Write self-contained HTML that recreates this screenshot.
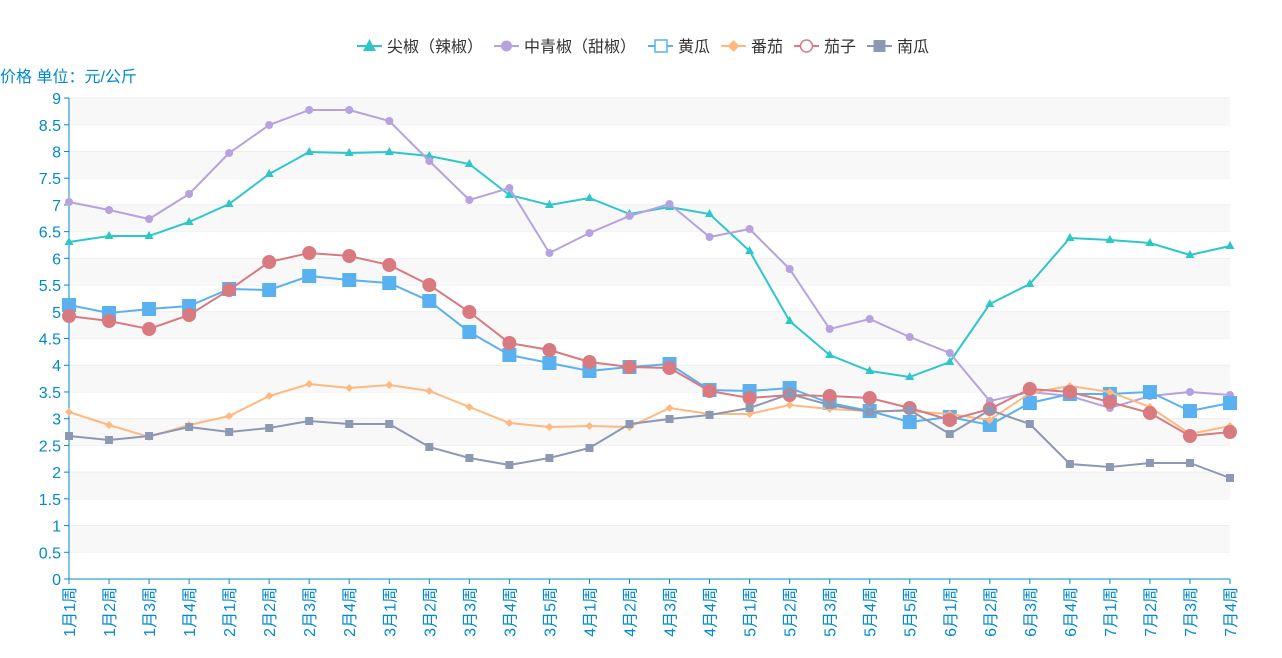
<!DOCTYPE html>
<html><head><meta charset="utf-8"><style>
html,body{margin:0;padding:0;background:#fff;width:1282px;height:658px;overflow:hidden}
svg{display:block}
text{font-family:"Liberation Sans","Noto Sans CJK SC",sans-serif}
</style></head><body>
<svg id="c" width="1282" height="658" xmlns="http://www.w3.org/2000/svg"></svg>
<script>
const s=document.getElementById('c');let h='';
const X0=69,DX=(1230-69)/29,Y0=579,U=53.44;
for(let i=0;i<18;i++){const y1=Y0-(i+1)*U/2;if(i%2==1)h+=`<rect x="${X0}" y="${y1}" width="${1230-X0}" height="${U/2}" fill="#f8f8f8"/>`;h+=`<line x1="${X0}" x2="1230" y1="${y1}" y2="${y1}" stroke="#eeeeee"/>`;}
for(let i=0;i<=18;i++){const y=Y0-i*U/2;h+=`<text x="61" y="${y+6}" text-anchor="end" font-size="16" fill="#008acd">${i/2}</text><line x1="64" x2="69" y1="${y}" y2="${y}" stroke="#008acd"/>`;}
h+=`<line x1="69" x2="69" y1="98" y2="579" stroke="#008acd"/><line x1="69" x2="1230" y1="579" y2="579" stroke="#008acd"/>`;
h+=`<text x="0" y="82" font-size="16" fill="#008acd">价格 单位：元/公斤</text>`;
const labs="1月1周 1月2周 1月3周 1月4周 2月1周 2月2周 2月3周 2月4周 3月1周 3月2周 3月3周 3月4周 3月5周 4月1周 4月2周 4月3周 4月4周 5月1周 5月2周 5月3周 5月4周 5月5周 6月1周 6月2周 6月3周 6月4周 7月1周 7月2周 7月3周 7月4周".split(' ');
labs.forEach((l,i)=>{const x=X0+i*DX;h+=`<line x1="${x}" x2="${x}" y1="579" y2="584" stroke="#008acd"/><text transform="translate(${x+6},587) rotate(-90)" text-anchor="end" font-size="16" fill="#008acd">${l}</text>`;});
const S=[
{c:'#2ec7c9',m:'tri',d:[242,236,236,222,204,174,152,153,152,156,164,195,205,198,214,207,214,251,321,355,371,377,362,304,284,238,240,243,255,246]},
{c:'#b6a2de',m:'dot',d:[202,210,219,194,153,125,110,110,121,161,200,188,253,233,216,204,237,229,269,329,319,337,353,401,392,396,408,396,392,395]},
{c:'#5ab1ef',m:'sq',d:[305,313,309,306,289,290,276,280,283,301,332,355,363,371,367,364,390,391,388,403,411,422,417,425,403,394,394,392,411,403]},
{c:'#ffb980',m:'dia',d:[412,425,437,425,416,396,384,388,385,391,407,423,427,426,427,408,414,414,405,409,411,411,414,420,393,386,392,407,434,426]},
{c:'#d87a80',m:'big',d:[316,321,329,315,290,262,253,256,265,285,312,343,350,362,367,368,391,398,395,396,398,408,420,409,389,392,402,413,436,432]},
{c:'#8d98b3',m:'ssq',d:[436,440,436,427,432,428,421,424,424,447,458,465,458,448,424,419,415,408,394,405,412,410,434,410,424,464,467,463,463,478]}];
function mk(m,x,y,c){switch(m){
case 'tri':return `<path d="M${x} ${y-5}L${x+4.5} ${y+3}L${x-4.5} ${y+3}Z" fill="${c}"/>`;
case 'dot':return `<circle cx="${x}" cy="${y}" r="4" fill="${c}"/>`;
case 'sq':return `<rect x="${x-7}" y="${y-7}" width="14" height="14" fill="${c}"/>`;
case 'dia':return `<path d="M${x} ${y-4}L${x+4} ${y}L${x} ${y+4}L${x-4} ${y}Z" fill="${c}"/>`;
case 'big':return `<circle cx="${x}" cy="${y}" r="7" fill="${c}"/>`;
case 'ssq':return `<rect x="${x-4}" y="${y-4}" width="8" height="8" fill="${c}"/>`;}}
S.forEach(o=>{h+=`<polyline fill="none" stroke="${o.c}" stroke-width="2" points="${o.d.map((y,i)=>(X0+i*DX)+','+y).join(' ')}"/>`;o.d.forEach((y,i)=>h+=mk(o.m,X0+i*DX,y,o.c));});
const L=[['尖椒（辣椒）',357,'tri'],['中青椒（甜椒）',494,'dot'],['黄瓜',648,'sqo'],['番茄',721,'dia'],['茄子',794,'cio'],['南瓜',867,'ssq']];
L.forEach((l,k)=>{const c=S[k].c,x=l[1],y=46;h+=`<line x1="${x}" x2="${x+25}" y1="${y}" y2="${y}" stroke="${c}" stroke-width="2"/>`;
if(l[2]=='sqo')h+=`<rect x="${x+7}" y="${y-6}" width="12" height="12" fill="#fff" stroke="${c}" stroke-width="1.5"/>`;
else if(l[2]=='cio')h+=`<circle cx="${x+12.5}" cy="${y}" r="6" fill="#fff" stroke="${c}" stroke-width="1.5"/>`;
else if(l[2]=='tri')h+=`<path d="M${x+12.5} ${y-7}L${x+19} ${y+5}L${x+6} ${y+5}Z" fill="${c}"/>`;
else if(l[2]=='dot')h+=`<circle cx="${x+12.5}" cy="${y}" r="5.5" fill="${c}"/>`;
else if(l[2]=='dia')h+=`<path d="M${x+12.5} ${y-6}L${x+18.5} ${y}L${x+12.5} ${y+6}L${x+6.5} ${y}Z" fill="${c}"/>`;
else h+=`<rect x="${x+6.5}" y="${y-6}" width="12" height="12" fill="${c}"/>`;
h+=`<text x="${x+30}" y="${y+6}" font-size="16" fill="#333">${l[0]}</text>`;});
s.innerHTML=h;
</script>
</body></html>
